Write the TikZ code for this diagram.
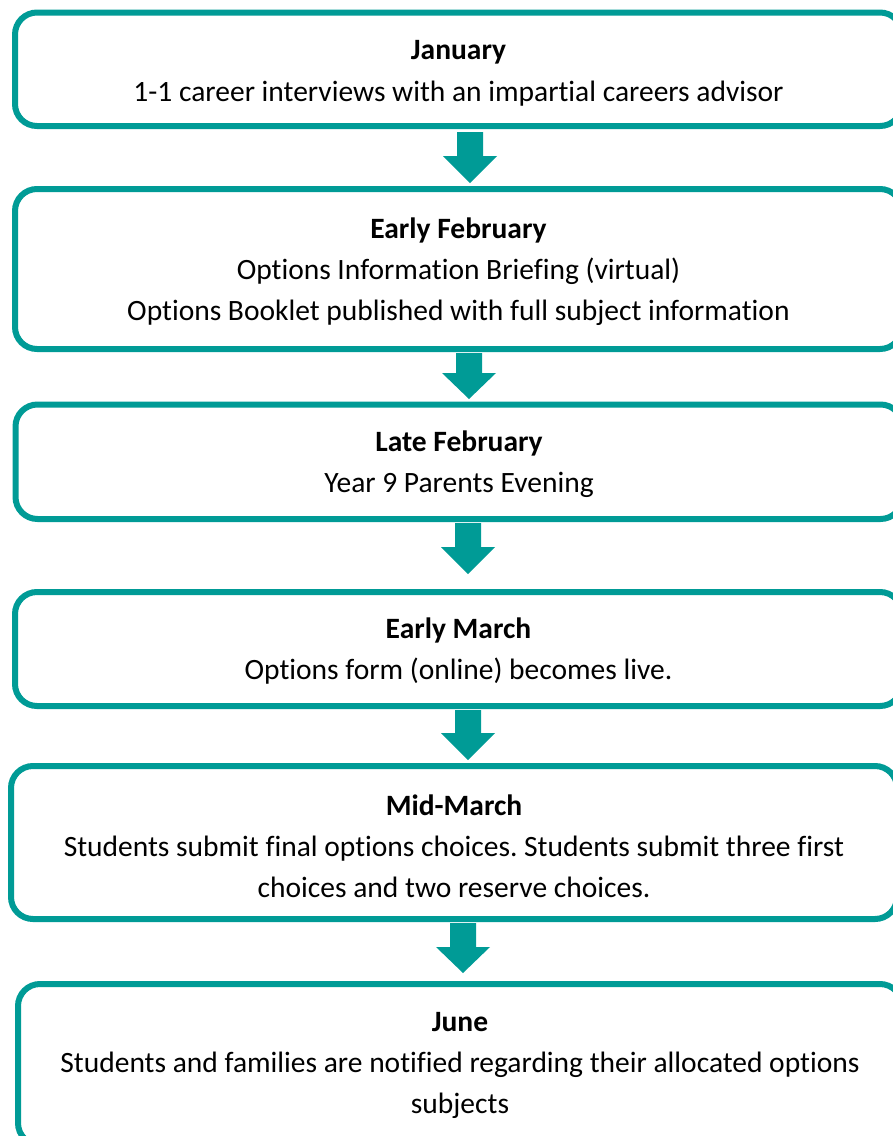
\documentclass[tikz,border=0pt]{standalone}
\usepackage{fontspec}
\setmainfont{Carlito}[Ligatures={NoCommon,NoRare,NoContextual}]
\frenchspacing
\definecolor{teal1}{RGB}{0,155,150}
\begin{document}
\begin{tikzpicture}[x=1pt,y=-1pt,
  box/.style={draw=teal1,line width=6pt,rounded corners=22pt,fill=white,
    minimum width=887pt,inner sep=0pt},
  txt/.style={inner sep=0pt,align=center,
    font=\fontsize{29.5}{41}\selectfont},
  barrow/.style={fill=teal1,draw=none}]
\useasboundingbox (0,0) rectangle (893,1136);
\node[box,minimum height=113.5pt] (b1) at (458.5,69.25) {};
\node[box,minimum height=160pt] (b2) at (458.5,269) {};
\node[box,minimum height=114.5pt] (b3) at (459,461.75) {};
\node[box,minimum height=114pt] (b4) at (458.5,649) {};
\node[box,minimum height=153pt,minimum width=886pt] (b5) at (454,842.5) {};
\node[box,minimum height=161pt,minimum width=884pt] (b6) at (460,1064.5) {};
\node[txt,font=\fontsize{29.5}{42}\selectfont,yshift=-4.5pt] (t1) at (b1.center)
  {\textbf{January}\\1-1 career interviews with an impartial careers advisor};
\node[txt,yshift=-3pt] (t2) at (b2.center)
  {\textbf{Early February}\\Options Information Briefing (virtual)\\Options Booklet published with full subject information};
\node[txt,yshift=-2pt] (t3) at (b3.center)
  {\textbf{Late February}\\Year 9 Parents Evening};
\node[txt,yshift=-2.5pt] (t4) at (b4.center)
  {\textbf{Early March}\\Options form (online) becomes live.};
\node[txt,yshift=-4pt] (t5) at (b5.center)
  {\textbf{Mid-March}\\Students submit final options choices. Students submit three first\\choices and two reserve choices.};
\node[txt,yshift=-1pt] (t6) at (b6.center)
  {\textbf{June}\\Students and families are notified regarding their allocated options\\subjects};
% block arrows
\coordinate (a1) at (470,132);
\coordinate (a2) at (469,353);
\coordinate (a3) at (468,523);
\coordinate (a4) at (468,710);
\coordinate (a5) at (463,923);
\foreach \a/\s/\h in {a1/24/27,a2/20/26,a3/24/27,a4/23/27,a5/24/26}{
  \fill[barrow] (\a) ++(-13,0) -- ++(26,0) -- ++(0,\s) -- ++(14,0)
    -- ++(-27,\h) -- ++(-27,-\h) -- ++(14,0) -- cycle;
}
\end{tikzpicture}
\end{document}
